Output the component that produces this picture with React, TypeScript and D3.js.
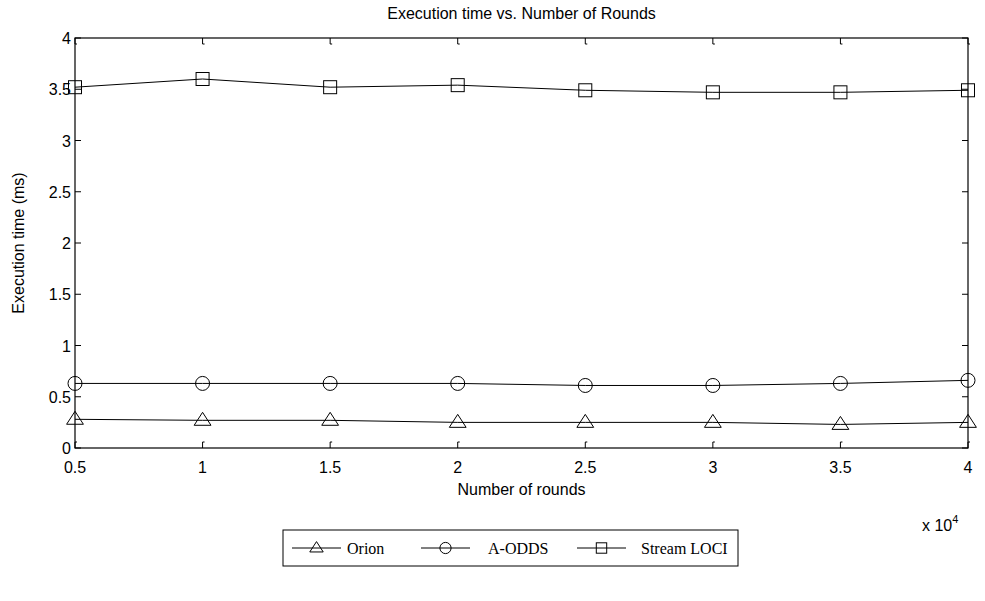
import React from "react";
import * as d3 from "d3";

const rounds = [5000, 10000, 15000, 20000, 25000, 30000, 35000, 40000];
const orion = [0.28, 0.27, 0.27, 0.25, 0.25, 0.25, 0.23, 0.25];
const aodds = [0.63, 0.63, 0.63, 0.63, 0.61, 0.61, 0.63, 0.66];
const streamLoci = [3.52, 3.6, 3.52, 3.54, 3.49, 3.47, 3.47, 3.49];
const xTicks = [5000, 10000, 15000, 20000, 25000, 30000, 35000, 40000];
const xTickLabels = ["0.5", "1", "1.5", "2", "2.5", "3", "3.5", "4"];
const yTicks = [0, 0.5, 1, 1.5, 2, 2.5, 3, 3.5, 4];
const yTickLabels = ["0", "0.5", "1", "1.5", "2", "2.5", "3", "3.5", "4"];
const seriesNames = ["Orion", "A-ODDS", "Stream LOCI"];
const seriesMarkers = ["triangle", "circle", "square"];

const W = 985;
const H = 601;
const L = 75, R = 968, T = 38, B = 448;
const sans = "'Liberation Sans', Arial, sans-serif";
const serif = "'Liberation Serif', 'Times New Roman', serif";

function Marker({ type, x, y, s = 1 }: { type: string; x: number; y: number; s?: number }) {
  if (type === "triangle") {
    const h = 8 * s;
    return <path d={`M${x},${y - h}L${x + h * 1.05},${y + h * 0.62}L${x - h * 1.05},${y + h * 0.62}Z`} fill="none" stroke="#000" strokeWidth={1} />;
  }
  if (type === "circle") return <circle cx={x} cy={y} r={7 * s} fill="none" stroke="#000" strokeWidth={1} />;
  return <rect x={x - 6.5 * s} y={y - 6.5 * s} width={13 * s} height={13 * s} fill="none" stroke="#000" strokeWidth={1} />;
}

export default function App() {
  const x = d3.scaleLinear().domain([5000, 40000]).range([L, R]);
  const y = d3.scaleLinear().domain([0, 4]).range([B, T]);
  const data = [orion, aodds, streamLoci];
  const line = d3.line<number>().x((_, i) => x(rounds[i])).y((d) => y(d));
  const tl = 6;

  const legendX = 283, legendY = 530, legendW = 455, legendH = 36;
  const legendItems = [
    { lx: 292, tx: 347 },
    { lx: 421, tx: 488 },
    { lx: 577, tx: 641 },
  ];

  return (
    <svg width={W} height={H} style={{ display: "block", position: "absolute", left: 0, top: 0 }}>
      <rect width={W} height={H} fill="#fff" />
      <text x={(L + R) / 2} y={19} textAnchor="middle" fontFamily={sans} fontSize={16}>
        Execution time vs. Number of Rounds
      </text>
      {xTicks.map((t, i) => (
        <g key={"xt" + i}>
          <path d={`M${x(t)},${B}V${B - tl}h2`} stroke="#000" fill="none" />
          <path d={`M${x(t)},${T}V${T + tl}h2`} stroke="#000" fill="none" />
          <text x={x(t)} y={B + 25} textAnchor="middle" fontFamily={sans} fontSize={16}>
            {xTickLabels[i]}
          </text>
        </g>
      ))}
      {yTicks.map((t, i) => (
        <g key={"yt" + i}>
          <path d={`M${L},${y(t)}H${L + tl}`} stroke="#000" fill="none" />
          <path d={`M${R},${y(t)}H${R - tl}`} stroke="#000" fill="none" />
          <text x={L - 4} y={y(t) + 6} textAnchor="end" fontFamily={sans} fontSize={16}>
            {yTickLabels[i]}
          </text>
        </g>
      ))}
      <rect x={L} y={T} width={R - L} height={B - T} fill="none" stroke="#000" strokeWidth={1.2} />
      {data.map((d, si) => (
        <g key={"s" + si}>
          <path d={line(d) || ""} fill="none" stroke="#000" strokeWidth={1} />
          {d.map((v, i) => (
            <Marker key={i} type={seriesMarkers[si]} x={x(rounds[i])} y={y(v)} />
          ))}
        </g>
      ))}
      <text x={(L + R) / 2} y={B + 47} textAnchor="middle" fontFamily={sans} fontSize={16}>
        Number of rounds
      </text>
      <text x={922} y={B + 83} fontFamily={sans} fontSize={16}>
        x 10<tspan dy={-8} fontSize={11}>4</tspan>
      </text>
      <text transform={`translate(${24},${(T + B) / 2}) rotate(-90)`} textAnchor="middle" fontFamily={sans} fontSize={16}>
        Execution time (ms)
      </text>
      <rect x={legendX} y={legendY} width={legendW} height={legendH} fill="#fff" stroke="#000" strokeWidth={1} />
      {legendItems.map((it, i) => (
        <g key={"lg" + i}>
          <line x1={it.lx} x2={it.lx + 49} y1={legendY + legendH / 2} y2={legendY + legendH / 2} stroke="#000" />
          <Marker type={seriesMarkers[i]} x={it.lx + 24.5} y={legendY + legendH / 2} s={0.8} />
          <text x={it.tx} y={legendY + legendH / 2 + 6} fontFamily={serif} fontSize={16}>
            {seriesNames[i]}
          </text>
        </g>
      ))}
    </svg>
  );
}
